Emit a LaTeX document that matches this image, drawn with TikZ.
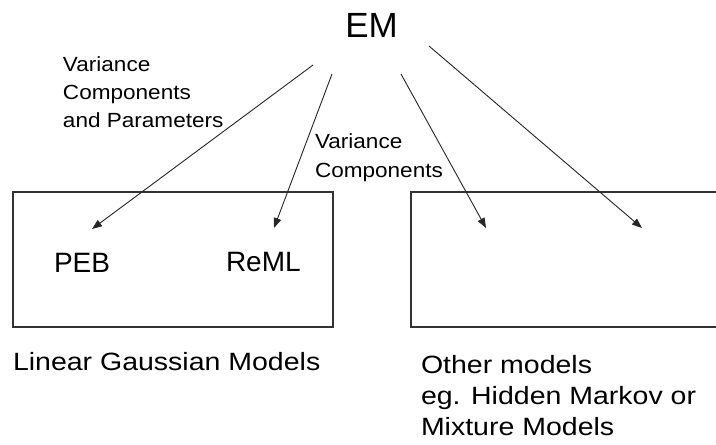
\documentclass[tikz,border=0pt]{standalone}
\usepackage{fontspec}
\setmainfont{Liberation Sans}
\newfontfamily\labfont[FakeStretch=1.1]{Liberation Sans}
\newfontfamily\lowfont[FakeStretch=1.14]{Liberation Sans}
\usetikzlibrary{arrows.meta}
\begin{document}
\begin{tikzpicture}[x=1pt,y=-1pt,
  txt/.style={inner sep=0pt, outer sep=0pt, anchor=north west, align=left},
  conn/.style={draw=black!85, line width=0.9pt, -{Triangle[length=10pt,width=7.5pt]}},
  box/.style={draw=black!80, line width=1.4pt, inner sep=0pt, minimum width=320pt, minimum height=135pt}]
\useasboundingbox[fill=white] (0,0) rectangle (716,445);
% boxes
\node[box] (lbox) at (173,259.5) {};
\node[box] (rbox) at (571,259.5) {};
% title
\node[inner sep=0pt, anchor=base, font=\fontsize{35}{42}\selectfont] (em) at (371.5,37.3) {EM};
% edge labels
\node[txt, font=\labfont\fontsize{20.5}{28}\selectfont] (lab1) at (63,57) {Variance\\Components\\and Parameters};
\node[txt, font=\labfont\fontsize{20.5}{29}\selectfont] (lab2) at (315,133.5) {Variance\\Components};
% inner texts
\node[txt, font=\fontsize{28}{34}\selectfont] (peb) at (54,253) {PEB};
\node[txt, font=\fontsize{28}{34}\selectfont] (reml) at (226,252.5) {ReML};
% captions
\node[txt, font=\lowfont\fontsize{25}{31}\selectfont] (lgm) at (13,352) {Linear Gaussian Models};
\node[txt, font=\lowfont\fontsize{25}{31}\selectfont] (oth) at (421,355) {Other models\\eg. Hidden Markov or\\Mixture Models};
% connector ends
\coordinate (s1) at (313,65);
\coordinate (s2) at (332,74);
\coordinate (s3) at (401,74);
\coordinate (s4) at (429,46);
\coordinate (t1) at (92,229);
\coordinate (t2) at (274,228);
\coordinate (t3) at (486,228);
\coordinate (t4) at (642,228);
\draw[conn] (s1) -- (t1);
\draw[conn] (s2) -- (t2);
\draw[conn] (s3) -- (t3);
\draw[conn] (s4) -- (t4);
\end{tikzpicture}
\end{document}
